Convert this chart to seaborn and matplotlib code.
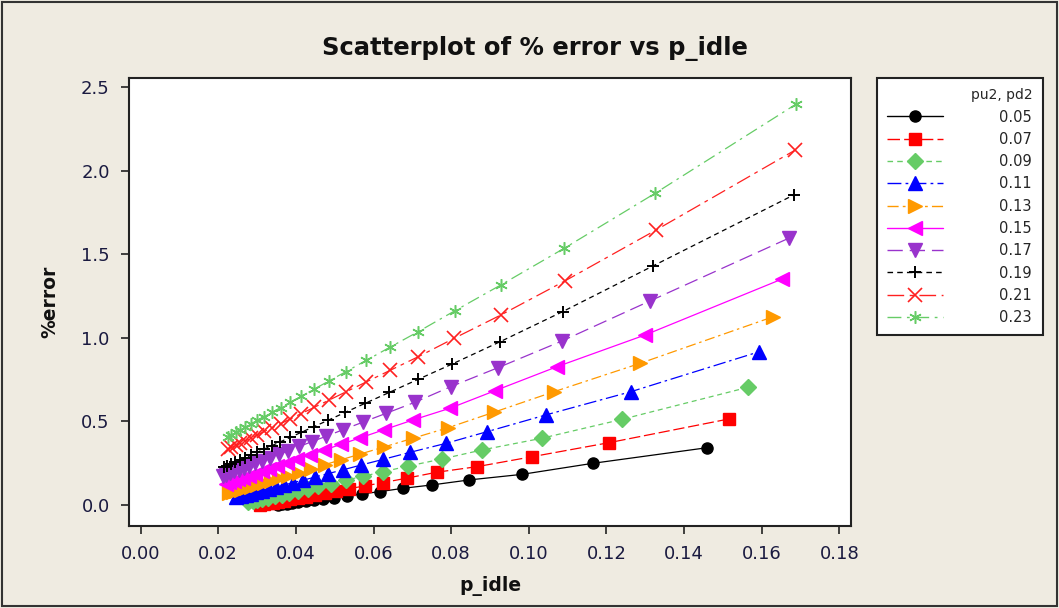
import numpy as np
import pandas as pd
import matplotlib
matplotlib.use("Agg")
import matplotlib.pyplot as plt
import seaborn as sns
from matplotlib.lines import Line2D
from matplotlib.patches import Rectangle

# ── data ────────────────────────────────────────────────────
series_labels = ["0.05", "0.07", "0.09", "0.11", "0.13", "0.15", "0.17", "0.19", "0.21", "0.23"]

p_idle_005 = [0.1460, 0.1164, 0.0982, 0.0847, 0.0751, 0.0677, 0.0617, 0.0570, 0.0531, 0.0498,
              0.0470, 0.0446, 0.0425, 0.0406, 0.0390, 0.0376, 0.0364, 0.0355]
err_005 = [0.343, 0.249, 0.183, 0.150, 0.120, 0.100, 0.080, 0.066, 0.054, 0.044,
           0.036, 0.029, 0.022, 0.016, 0.011, 0.007, 0.003, 0.000]

p_idle_007 = [0.1516, 0.1207, 0.1009, 0.0866, 0.0763, 0.0685, 0.0625, 0.0577, 0.0537, 0.0503,
              0.0474, 0.0448, 0.0425, 0.0405, 0.0386, 0.0369, 0.0354, 0.0341, 0.0329, 0.0318, 0.0308]
err_007 = [0.515, 0.373, 0.289, 0.229, 0.196, 0.160, 0.134, 0.114, 0.097, 0.083,
           0.070, 0.059, 0.050, 0.041, 0.033, 0.026, 0.020, 0.014, 0.009, 0.004, 0.000]

p_idle_009 = [0.1564, 0.1241, 0.1033, 0.0879, 0.0776, 0.0690, 0.0625, 0.0572, 0.0528, 0.0490,
              0.0458, 0.0430, 0.0405, 0.0383, 0.0363, 0.0345, 0.0329, 0.0314, 0.0301, 0.0289, 0.0277]
err_009 = [0.704, 0.513, 0.399, 0.329, 0.275, 0.233, 0.199, 0.171, 0.148, 0.127,
           0.111, 0.096, 0.083, 0.071, 0.060, 0.051, 0.042, 0.035, 0.028, 0.021, 0.015]

p_idle_011 = [0.1593, 0.1263, 0.1044, 0.0893, 0.0787, 0.0694, 0.0625, 0.0568, 0.0521, 0.0482,
              0.0448, 0.0418, 0.0392, 0.0369, 0.0348, 0.0330, 0.0313, 0.0298, 0.0284, 0.0271,
              0.0259, 0.0247]
err_011 = [0.917, 0.678, 0.539, 0.439, 0.369, 0.315, 0.273, 0.239, 0.210, 0.187,
           0.166, 0.148, 0.133, 0.119, 0.106, 0.095, 0.085, 0.076, 0.067, 0.060,
           0.052, 0.045]

p_idle_013 = [0.1630, 0.1287, 0.1065, 0.0910, 0.0793, 0.0701, 0.0627, 0.0566, 0.0516, 0.0474,
              0.0439, 0.0408, 0.0381, 0.0357, 0.0336, 0.0317, 0.0300, 0.0285, 0.0271, 0.0258,
              0.0247, 0.0237, 0.0228]
err_013 = [1.127, 0.848, 0.678, 0.555, 0.463, 0.399, 0.347, 0.305, 0.270, 0.241,
           0.216, 0.194, 0.176, 0.159, 0.144, 0.131, 0.119, 0.108, 0.099, 0.090,
           0.082, 0.075, 0.069]

p_idle_015 = [0.1652, 0.1299, 0.1073, 0.0913, 0.0797, 0.0702, 0.0628, 0.0566, 0.0515, 0.0472,
              0.0436, 0.0404, 0.0377, 0.0352, 0.0331, 0.0312, 0.0294, 0.0279, 0.0265, 0.0252,
              0.0240, 0.0229, 0.0219]
err_015 = [1.352, 1.017, 0.828, 0.684, 0.579, 0.509, 0.451, 0.402, 0.362, 0.328,
           0.299, 0.274, 0.253, 0.233, 0.217, 0.202, 0.187, 0.175, 0.164, 0.154,
           0.145, 0.136, 0.128]

p_idle_017 = [0.1669, 0.1312, 0.1085, 0.0921, 0.0799, 0.0707, 0.0633, 0.0572, 0.0521, 0.0478,
              0.0441, 0.0409, 0.0381, 0.0356, 0.0334, 0.0314, 0.0296, 0.0280, 0.0266, 0.0253,
              0.0241, 0.0230, 0.0220, 0.0212]
err_017 = [1.596, 1.221, 0.981, 0.822, 0.708, 0.615, 0.549, 0.495, 0.450, 0.411,
           0.379, 0.350, 0.325, 0.303, 0.283, 0.266, 0.250, 0.235, 0.223, 0.211,
           0.201, 0.191, 0.182, 0.175]

p_idle_019 = [0.1682, 0.1321, 0.1087, 0.0926, 0.0803, 0.0715, 0.0641, 0.0579, 0.0527, 0.0483,
              0.0446, 0.0413, 0.0385, 0.0360, 0.0338, 0.0318, 0.0300, 0.0284, 0.0269, 0.0256,
              0.0244, 0.0233, 0.0223, 0.0215]
err_019 = [1.855, 1.432, 1.157, 0.977, 0.844, 0.752, 0.674, 0.609, 0.554, 0.507,
           0.468, 0.434, 0.404, 0.378, 0.355, 0.334, 0.315, 0.298, 0.282, 0.268,
           0.256, 0.244, 0.233, 0.225]

p_idle_021 = [0.1686, 0.1328, 0.1093, 0.0928, 0.0808, 0.0715, 0.0643, 0.0581, 0.0529, 0.0485,
              0.0447, 0.0414, 0.0386, 0.0361, 0.0339, 0.0319, 0.0301, 0.0285, 0.0270, 0.0257,
              0.0245, 0.0234, 0.0224]
err_021 = [2.124, 1.646, 1.341, 1.137, 0.998, 0.887, 0.806, 0.736, 0.677, 0.627,
           0.584, 0.547, 0.515, 0.487, 0.462, 0.440, 0.419, 0.401, 0.384, 0.370,
           0.356, 0.344, 0.332]

p_idle_023 = [0.1689, 0.1325, 0.1091, 0.0928, 0.0810, 0.0715, 0.0643, 0.0581, 0.0529, 0.0485,
              0.0447, 0.0414, 0.0386, 0.0361, 0.0339, 0.0319, 0.0301, 0.0285, 0.0270, 0.0257,
              0.0245, 0.0234, 0.0224]
err_023 = [2.400, 1.865, 1.536, 1.317, 1.163, 1.037, 0.945, 0.865, 0.798, 0.742,
           0.693, 0.651, 0.615, 0.583, 0.555, 0.529, 0.506, 0.486, 0.466, 0.450,
           0.434, 0.420, 0.408]

x_ticks = [0.00, 0.02, 0.04, 0.06, 0.08, 0.10, 0.12, 0.14, 0.16, 0.18]
y_ticks = [0.0, 0.5, 1.0, 1.5, 2.0, 2.5]

all_x = [p_idle_005, p_idle_007, p_idle_009, p_idle_011, p_idle_013,
         p_idle_015, p_idle_017, p_idle_019, p_idle_021, p_idle_023]
all_y = [err_005, err_007, err_009, err_011, err_013,
         err_015, err_017, err_019, err_021, err_023]

df = pd.concat(
    [pd.DataFrame({"p_idle": xs, "err": ys, "pu2, pd2": lab})
     for xs, ys, lab in zip(all_x, all_y, series_labels)],
    ignore_index=True,
)

# ── Minitab-like styling ─────────────────────────────────────
colors = ["#000000", "#FF0000", "#66CC66", "#0000FF", "#FF9900",
          "#FF00FF", "#9933CC", "#000000", "#FF2020", "#66CC66"]
markers = ["o", "s", "D", "^", ">", "<", "v", "+", "x", (6, 2, 0)]
msizes = [8, 8, 8.5, 9.5, 9.5, 9.5, 9.5, 9, 10, 9]
mews = [1, 1, 1, 1, 1, 1, 1, 1.4, 1.2, 1.1]
styles = ["-", (0, (9, 3)), (0, (4, 3)), (0, (10, 3, 2, 3)), (0, (8, 3, 2, 3)),
          "-", (0, (11, 5)), (0, (4, 3)), (0, (12, 4, 3, 4)), (0, (10, 4, 2, 4))]

bg = "#EFEBE1"
sns.set_theme(style="ticks")
plt.rcParams["font.family"] = ["DejaVu Sans"]

fig = plt.figure(figsize=(10.59, 6.08), dpi=100, facecolor=bg)
ax = fig.add_axes([0.1221, 0.1354, 0.6812, 0.7359])
ax.set_facecolor("white")

handles = []
for i, lab in enumerate(series_labels):
    sub = df[df["pu2, pd2"] == lab]
    sns.lineplot(data=sub, x="p_idle", y="err", ax=ax, color=colors[i],
                 marker=markers[i], markersize=msizes[i], markeredgecolor=colors[i],
                 markeredgewidth=mews[i], linestyle=styles[i], linewidth=0.9,
                 estimator=None, sort=True, legend=False)
    handles.append(Line2D([0], [0], color=colors[i], marker=markers[i],
                          markersize=msizes[i], markeredgecolor=colors[i],
                          markeredgewidth=mews[i], linestyle=styles[i], linewidth=1.0))

ax.set_xlim(-0.0029, 0.1829)
ax.set_ylim(-0.124, 2.554)
ax.set_xticks(x_ticks)
ax.set_xticklabels([f"{v:.2f}" for v in x_ticks])
ax.set_yticks(y_ticks)
ax.set_yticklabels([f"{v:.1f}" for v in y_ticks])
ax.tick_params(axis="both", direction="out", length=6, width=1.2, colors="#222222",
               labelsize=13, labelcolor="#1a1a40", pad=8)
for sp in ax.spines.values():
    sp.set_visible(True)
    sp.set_color("#222222")
    sp.set_linewidth(1.5)

ax.set_xlabel("p_idle", fontsize=13.5, fontweight="bold", labelpad=9, color="#111111")
ax.set_ylabel("%error", fontsize=13.5, fontweight="bold", labelpad=16, color="#111111")
fig.text(0.505, 0.921, "Scatterplot of % error vs p_idle", ha="center", va="center",
         fontsize=17.5, fontweight="bold", color="#111111")

leg = fig.legend(handles, series_labels, title="pu2, pd2", loc="upper left",
                 bbox_to_anchor=(877 / 1059, 1 - 78 / 608), borderaxespad=0,
                 fontsize=10.5, title_fontsize=10, handlelength=3.8, handletextpad=3.9,
                 labelspacing=0.5, borderpad=0.7, frameon=True, fancybox=False,
                 facecolor="white", edgecolor="#222222", framealpha=1)
leg.get_frame().set_linewidth(1.5)
leg._legend_box.align = "right"

# outer border of the graph window
fig.patches.append(Rectangle((0.002, 0.003), 0.996, 0.994, transform=fig.transFigure,
                             fill=False, edgecolor="#333333", linewidth=1.5))

fig.savefig("out.png", dpi=100, facecolor=bg)
